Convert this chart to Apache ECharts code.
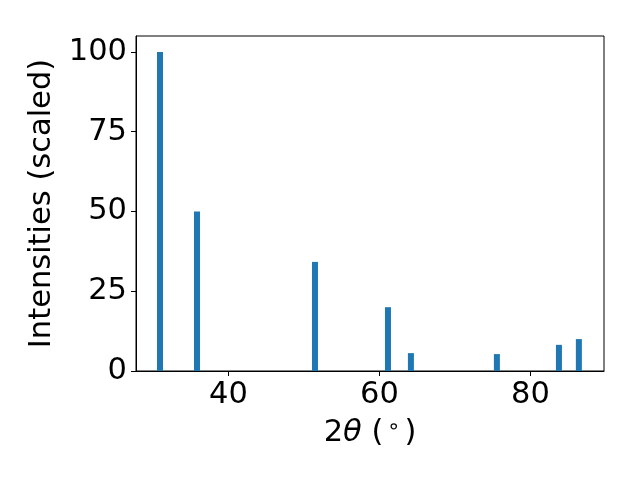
<!DOCTYPE html>
<html><head><meta charset="utf-8">
<script src="https://cdn.jsdelivr.net/npm/echarts@6/dist/echarts.min.js"></script>
<style>html,body{margin:0;padding:0;background:#fff}#c{width:640px;height:480px}</style>
</head><body><div id="c"></div>
<script>
const peakPositions = [30.93, 35.83, 51.46, 61.13, 64.17, 75.56, 83.78, 86.42];
const peakIntensities = [100, 50, 34.2, 20, 5.6, 5.3, 8.2, 10];
const xTicks = [40, 60, 80];
const yTicks = [0, 25, 50, 75, 100];

const chart = echarts.init(document.getElementById('c'), null, {renderer: 'canvas'});
const font = 'DejaVu Sans';
const fs = 30.5;
chart.setOption({
  animation: false,
  backgroundColor: '#fff',
  grid: {left: 136, right: 36, top: 36, bottom: 109, show: true, borderColor: '#000', borderWidth: 1},
  xAxis: {
    type: 'value', min: 27.75, max: 89.75,
    splitLine: {show: false},
    axisLine: {show: true, onZero: false, lineStyle: {color: '#000', width: 1}},
    axisTick: {show: true, length: 5, lineStyle: {color: '#000'}, customValues: xTicks},
    axisLabel: {customValues: xTicks, color: '#000', fontFamily: font, fontSize: fs, margin: 9},
    name: '{n|2}{i|θ}{n| (}{s|∘}{n|)}',
    nameLocation: 'middle', nameGap: 46,
    nameTextStyle: {
      rich: {
        n: {fontFamily: font, fontSize: fs, color: '#000'},
        i: {fontFamily: font, fontSize: fs, fontStyle: 'italic', color: '#000'},
        s: {fontFamily: font, fontSize: 21, color: '#000', verticalAlign: 'top', padding: [0, 4, 12, 4]}
      }
    }
  },
  yAxis: {
    type: 'value', min: 0, max: 105,
    splitLine: {show: false},
    axisLine: {show: true, lineStyle: {color: '#000', width: 1}},
    axisTick: {show: true, length: 5, lineStyle: {color: '#000'}, customValues: yTicks},
    axisLabel: {customValues: yTicks, color: '#000', fontFamily: font, fontSize: fs, margin: 9},
    name: 'Intensities (scaled)',
    nameLocation: 'middle', nameGap: 71,
    nameTextStyle: {fontFamily: font, fontSize: fs, color: '#000'}
  },
  series: [{
    type: 'bar',
    data: peakPositions.map((x, i) => [x, peakIntensities[i]]),
    barWidth: 6,
    itemStyle: {color: '#1f77b4'}
  }]
});
</script></body></html>
